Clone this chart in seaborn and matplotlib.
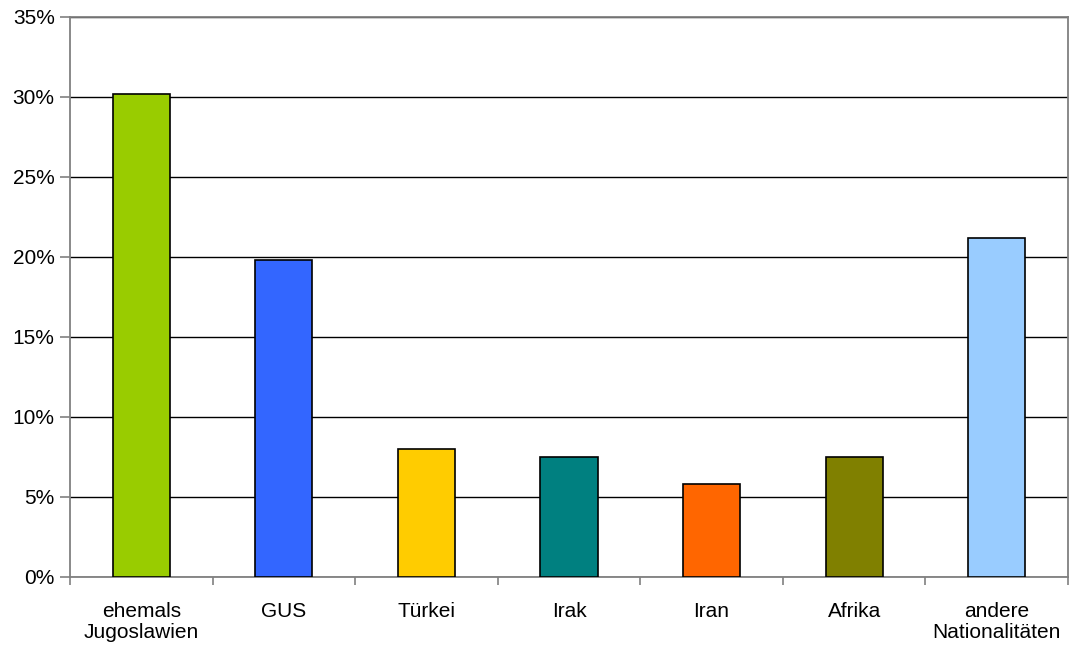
import matplotlib
matplotlib.use("Agg")
import matplotlib.pyplot as plt
import seaborn as sns
import pandas as pd
import numpy as np
from matplotlib.ticker import FixedLocator, PercentFormatter

# Anteile nach Herkunft (in Prozent)
categories = ["ehemals\nJugoslawien", "GUS", "Türkei", "Irak", "Iran", "Afrika",
              "andere\nNationalitäten"]
shares = [30.2, 19.8, 8.0, 7.5, 5.8, 7.5, 21.2]
colors = ["#99CC00", "#3366FF", "#FFCC00", "#008080", "#FF6600", "#808000", "#99CCFF"]
y_ticks = [0, 5, 10, 15, 20, 25, 30, 35]

sns.set_theme(style="white")
plt.rcParams["font.family"] = ["Liberation Sans", "DejaVu Sans"]
plt.rcParams["xtick.labelcolor"] = "black"
plt.rcParams["ytick.labelcolor"] = "black"

df = pd.DataFrame({"Herkunft": categories, "Anteil": shares})

fig = plt.figure(figsize=(10.7, 6.48), dpi=100)
ax = fig.add_axes([70 / 1070, (648 - 577) / 648, (1068 - 70) / 1070, (577 - 17) / 648])

sns.barplot(data=df, x="Herkunft", y="Anteil", hue="Herkunft", palette=colors,
            legend=False, width=0.4, edgecolor="black", linewidth=1.2,
            saturation=1, ax=ax, zorder=3)

ax.set_ylim(0, 35)
ax.set_xlim(-0.5, len(categories) - 0.5)
ax.set_yticks(y_ticks)
ax.yaxis.set_major_formatter(PercentFormatter(decimals=0))
ax.yaxis.grid(True, color="black", linewidth=1.0, zorder=0)
ax.set_axisbelow(True)

ax.set_xlabel("")
ax.set_ylabel("")

# category boundaries carry the tick marks on the x axis
ax.xaxis.set_minor_locator(FixedLocator(np.arange(-0.5, len(categories), 1.0)))
ax.tick_params(axis="x", which="major", length=0, pad=18, labelsize=15, labelcolor="black")
ax.tick_params(axis="x", which="minor", bottom=True, length=6, width=1.2, color="#808080")
ax.tick_params(axis="y", which="major", left=True, length=7, width=1.2, color="#808080",
               labelsize=15, pad=4, labelcolor="black")
for lbl in ax.get_xticklabels():
    lbl.set_linespacing(1.15)
    lbl.set_verticalalignment("top")

for side in ["left", "bottom", "top", "right"]:
    ax.spines[side].set_visible(True)
    ax.spines[side].set_color("#808080")
    ax.spines[side].set_linewidth(1.3)

fig.savefig("out.png", dpi=100, facecolor="white")
